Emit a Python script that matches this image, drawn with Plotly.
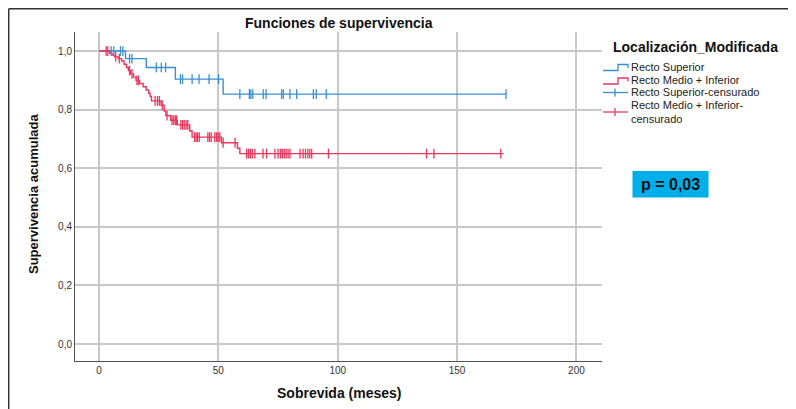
import numpy as np
import plotly.graph_objects as go

# ---------------- data ----------------
x_ticks = [0, 50, 100, 150, 200]
x_tick_labels = ["0", "50", "100", "150", "200"]
y_ticks = [0.0, 0.2, 0.4, 0.6, 0.8, 1.0]
y_tick_labels = ["0,0", "0,2", "0,4", "0,6", "0,8", "1,0"]

# Recto Superior
sup_event_t = [0, 11.1, 19.8, 32.0, 52.0, 170.5]
sup_event_s = [1.0, 0.974, 0.944, 0.904, 0.853, 0.853]
sup_cens_t = [5.1, 6.2, 9.0, 10.0, 12.8, 13.8, 24.0, 26.1, 27.9, 34.1, 35.0,
              39.0, 41.9, 46.1, 50.1, 59.0, 63.0, 63.6, 64.4, 68.8, 70.0,
              76.5, 77.2, 80.0, 82.8, 89.8, 91.0, 95.2, 170.5]

# Recto Medio + Inferior
mi_event_t = [0, 4.5, 5.5, 6.5, 8.0, 9.5, 10.5, 11.5, 12.3, 13.2, 14.5, 15.5,
              17.0, 18.5, 19.8, 20.8, 21.4, 22.0, 26.0, 27.3, 28.0, 30.0, 32.8,
              38.0, 39.0, 51.3, 58.0, 59.0, 169.5]
mi_event_s = [1.0, 0.992, 0.986, 0.980, 0.974, 0.966, 0.955, 0.944, 0.933,
              0.922, 0.911, 0.900, 0.889, 0.878, 0.867, 0.856, 0.845, 0.830,
              0.815, 0.795, 0.780, 0.764, 0.748, 0.727, 0.706, 0.687, 0.668,
              0.650, 0.650]
mi_cens_t = [3.0, 3.7, 7.0, 8.5, 12.8, 13.8, 15.9, 16.5, 23.5, 24.5, 25.3,
             26.5, 28.5, 30.6, 31.3, 32.0, 32.5, 34.3, 35.0, 35.7, 36.5, 37.2,
             40.0, 40.7, 41.3, 42.0, 45.6, 46.3, 47.0, 48.5, 49.2, 49.9, 50.6,
             52.0, 57.0, 61.8, 62.6, 63.4, 64.2, 65.3, 68.7, 70.2, 73.7, 75.0,
             76.0, 76.8, 77.6, 78.4, 79.2, 80.0, 84.2, 85.5, 86.5, 87.5, 88.3,
             89.1, 96.1, 137.2, 140.3, 168.3]

series_names = ["Recto Superior", "Recto Medio + Inferior",
                "Recto Superior-censurado", "Recto Medio + Inferior-censurado"]
legend_title = "Localización_Modificada"
p_text = "p = 0,03"

BLUE = "#3a90d0"
RED = "#e8375e"
FONT = "Liberation Sans, Arial, sans-serif"


def surv_at(ev_t, ev_s, times):
    ev_t = np.asarray(ev_t)
    ev_s = np.asarray(ev_s)
    idx = np.searchsorted(ev_t, np.asarray(times), side="right") - 1
    return ev_s[idx]


# ---------------- figure ----------------
OFF = 8                      # page body margin offset
W, H = 796 - OFF, 409 - OFF
L, R, T, B = 75 - OFF, 602 - OFF, 32 - OFF, 361 - OFF   # plot area in figure px


def px(x):   # x given in window pixels
    return (x - OFF - L) / (R - L)


def py(y):   # y given in window pixels
    return (B - (y - OFF)) / (B - T)


fig = go.Figure()
fig.add_trace(go.Scatter(x=sup_event_t, y=sup_event_s, mode="lines",
                         line=dict(shape="hv", color=BLUE, width=1.4),
                         name=series_names[0], showlegend=False))
fig.add_trace(go.Scatter(x=mi_event_t, y=mi_event_s, mode="lines",
                         line=dict(shape="hv", color=RED, width=1.4),
                         name=series_names[1], showlegend=False))
fig.add_trace(go.Scatter(x=sup_cens_t, y=surv_at(sup_event_t, sup_event_s, sup_cens_t),
                         mode="markers", name=series_names[2], showlegend=False,
                         marker=dict(symbol="line-ns", size=7, color=BLUE,
                                     line=dict(width=1.3, color=BLUE))))
fig.add_trace(go.Scatter(x=mi_cens_t, y=surv_at(mi_event_t, mi_event_s, mi_cens_t),
                         mode="markers", name=series_names[3], showlegend=False,
                         marker=dict(symbol="line-ns", size=7, color=RED,
                                     line=dict(width=1.3, color=RED))))

axis_common = dict(showgrid=True, gridcolor="#c8c8c8", gridwidth=1.6,
                   zeroline=False, showline=True, linecolor="#505050",
                   linewidth=1, ticks="", tickfont=dict(size=10, color="#333333",
                                                        family=FONT))
fig.update_xaxes(range=[-10.05, 210.7], tickvals=x_ticks, ticktext=x_tick_labels,
                 **axis_common)
fig.update_yaxes(range=[-0.058, 1.065], tickvals=y_ticks, ticktext=y_tick_labels,
                 **axis_common)

shapes = []
annotations = []

# outer frame (left and top lines)
shapes.append(dict(type="line", xref="paper", yref="paper", x0=px(8.7), x1=px(8.7),
                   y0=py(8.7), y1=py(409), line=dict(color="#333333", width=1.5)))
shapes.append(dict(type="line", xref="paper", yref="paper", x0=px(8.7), x1=px(796),
                   y0=py(8.7), y1=py(8.7), line=dict(color="#333333", width=1.5)))

# titles
annotations.append(dict(text="<b>Funciones de supervivencia</b>", xref="paper",
                        yref="paper", x=px(338.5), y=py(23), showarrow=False,
                        font=dict(size=14, color="#111111", family=FONT),
                        xanchor="center", yanchor="middle"))
annotations.append(dict(text="<b>Sobrevida (meses)</b>", xref="paper", yref="paper",
                        x=px(339), y=py(393), showarrow=False,
                        font=dict(size=14, color="#111111", family=FONT),
                        xanchor="center", yanchor="middle"))
annotations.append(dict(text="<b>Supervivencia acumulada</b>", xref="paper",
                        yref="paper", x=px(33), y=py(194), showarrow=False,
                        textangle=-90,
                        font=dict(size=13, color="#111111", family=FONT),
                        xanchor="center", yanchor="middle"))

# legend (drawn manually)
annotations.append(dict(text="<b>" + legend_title + "</b>", xref="paper",
                        yref="paper", x=px(611), y=py(47), showarrow=False,
                        font=dict(size=14, color="#111111", family=FONT),
                        xanchor="left", yanchor="middle"))
for yy, c in [(67, BLUE), (80.5, RED)]:
    path = "M {},{} L {},{} L {},{} L {},{} L {},{}".format(
        px(603), py(yy + 3.5), px(618), py(yy + 3.5), px(618), py(yy - 2.5),
        px(628), py(yy - 2.5), px(628), py(yy + 1))
    shapes.append(dict(type="path", xref="paper", yref="paper", path=path,
                       line=dict(color=c, width=1.3)))
# censored icons
for yy, c in [(92.5, BLUE), (112, RED)]:
    shapes.append(dict(type="line", xref="paper", yref="paper", x0=px(603),
                       x1=px(628), y0=py(yy), y1=py(yy), line=dict(color=c, width=1.3)))
    shapes.append(dict(type="line", xref="paper", yref="paper", x0=px(615),
                       x1=px(615), y0=py(yy - 4), y1=py(yy + 4),
                       line=dict(color=c, width=1.3)))
leg_text = [(series_names[0], 67), (series_names[1], 80.5), (series_names[2], 92.5),
            ("Recto Medio + Inferior-<br>censurado", 112)]
for txt, yy in leg_text:
    annotations.append(dict(text=txt, xref="paper", yref="paper", x=px(629),
                            y=py(yy), showarrow=False, align="left",
                            font=dict(size=11, color="#222222", family=FONT),
                            xanchor="left", yanchor="middle"))

# p-value box
shapes.append(dict(type="rect", xref="paper", yref="paper", x0=px(632.5),
                   x1=px(708.5), y0=py(197.5), y1=py(171), fillcolor="#00aeea",
                   line=dict(width=0)))
annotations.append(dict(text="<b>" + p_text + "</b>", xref="paper", yref="paper",
                        x=px(670.5), y=py(184.5), showarrow=False,
                        font=dict(size=16, color="#111111", family=FONT),
                        xanchor="center", yanchor="middle"))

fig.update_layout(width=W, height=H, autosize=False,
                  margin=dict(l=L, r=W - R, t=T, b=H - B),
                  paper_bgcolor="white", plot_bgcolor="white",
                  showlegend=False, shapes=shapes, annotations=annotations,
                  font=dict(family=FONT))

fig.write_html("out.html")
